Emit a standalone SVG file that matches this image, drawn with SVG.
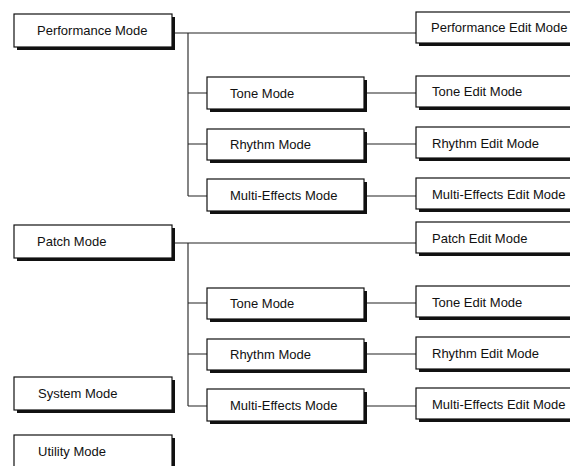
<svg xmlns="http://www.w3.org/2000/svg" width="570" height="466" viewBox="0 0 570 466">
<style>
.sh{fill:#111}
.bx{fill:#fff;stroke:#111;stroke-width:1.2}
.t{font-family:"Liberation Sans",Arial,sans-serif;font-size:13px;fill:#111}
.c{fill:none;stroke:#222;stroke-width:1.1}
</style>
<rect width="570" height="466" fill="#fff"/>
<g id="connectors" class="c">
<path d="M172 33H416M188 33V196M188 93H207M188 144H207M188 196H207M364 93H416M364 144H416M364 196H416"/>
<path d="M172 243H416M188 243V406M188 303H207M188 354H207M188 406H207M364 303H416M364 354H416M364 406H416"/>
</g>
<g id="performance-mode"><rect class="sh" x="17" y="17" width="158" height="33"/><rect class="bx" x="14" y="14" width="158" height="33"/><text class="t" x="37" y="35">Performance Mode</text></g>
<g id="tone-mode-1"><rect class="sh" x="210" y="80" width="157" height="32"/><rect class="bx" x="207" y="77" width="157" height="32"/><text class="t" x="230" y="98">Tone Mode</text></g>
<g id="rhythm-mode-1"><rect class="sh" x="210" y="132" width="157" height="31"/><rect class="bx" x="207" y="129" width="157" height="31"/><text class="t" x="230" y="149">Rhythm Mode</text></g>
<g id="multi-effects-mode-1"><rect class="sh" x="210" y="182" width="157" height="32"/><rect class="bx" x="207" y="179" width="157" height="32"/><text class="t" x="230" y="200">Multi-Effects Mode</text></g>
<g id="performance-edit-mode"><rect class="sh" x="419" y="15" width="160" height="31"/><rect class="bx" x="416" y="12" width="160" height="31"/><text class="t" x="431" y="32">Performance Edit Mode</text></g>
<g id="tone-edit-mode-1"><rect class="sh" x="419" y="79" width="160" height="31"/><rect class="bx" x="416" y="76" width="160" height="31"/><text class="t" x="432" y="96">Tone Edit Mode</text></g>
<g id="rhythm-edit-mode-1"><rect class="sh" x="419" y="130" width="160" height="31"/><rect class="bx" x="416" y="127" width="160" height="31"/><text class="t" x="432" y="148">Rhythm Edit Mode</text></g>
<g id="multi-effects-edit-mode-1"><rect class="sh" x="419" y="181" width="160" height="31"/><rect class="bx" x="416" y="178" width="160" height="31"/><text class="t" x="432" y="199">Multi-Effects Edit Mode</text></g>
<g id="patch-mode"><rect class="sh" x="17" y="228" width="158" height="33"/><rect class="bx" x="14" y="225" width="158" height="33"/><text class="t" x="37" y="246">Patch Mode</text></g>
<g id="patch-edit-mode"><rect class="sh" x="419" y="225" width="160" height="31"/><rect class="bx" x="416" y="222" width="160" height="31"/><text class="t" x="432" y="243">Patch Edit Mode</text></g>
<g id="tone-mode-2"><rect class="sh" x="210" y="291" width="157" height="31"/><rect class="bx" x="207" y="288" width="157" height="31"/><text class="t" x="230" y="308">Tone Mode</text></g>
<g id="rhythm-mode-2"><rect class="sh" x="210" y="342" width="157" height="31"/><rect class="bx" x="207" y="339" width="157" height="31"/><text class="t" x="230" y="359">Rhythm Mode</text></g>
<g id="multi-effects-mode-2"><rect class="sh" x="210" y="392" width="157" height="32"/><rect class="bx" x="207" y="389" width="157" height="32"/><text class="t" x="230" y="410">Multi-Effects Mode</text></g>
<g id="tone-edit-mode-2"><rect class="sh" x="419" y="289" width="160" height="31"/><rect class="bx" x="416" y="286" width="160" height="31"/><text class="t" x="432" y="307">Tone Edit Mode</text></g>
<g id="rhythm-edit-mode-2"><rect class="sh" x="419" y="340" width="160" height="32"/><rect class="bx" x="416" y="337" width="160" height="32"/><text class="t" x="432" y="358">Rhythm Edit Mode</text></g>
<g id="multi-effects-edit-mode-2"><rect class="sh" x="419" y="391" width="160" height="31"/><rect class="bx" x="416" y="388" width="160" height="31"/><text class="t" x="432" y="409">Multi-Effects Edit Mode</text></g>
<g id="system-mode"><rect class="sh" x="17" y="380" width="158" height="33"/><rect class="bx" x="14" y="377" width="158" height="33"/><text class="t" x="38" y="398">System Mode</text></g>
<g id="utility-mode"><rect class="sh" x="17" y="438" width="158" height="40"/><rect class="bx" x="14" y="435" width="158" height="40"/><text class="t" x="38" y="456">Utility Mode</text></g>
</svg>
